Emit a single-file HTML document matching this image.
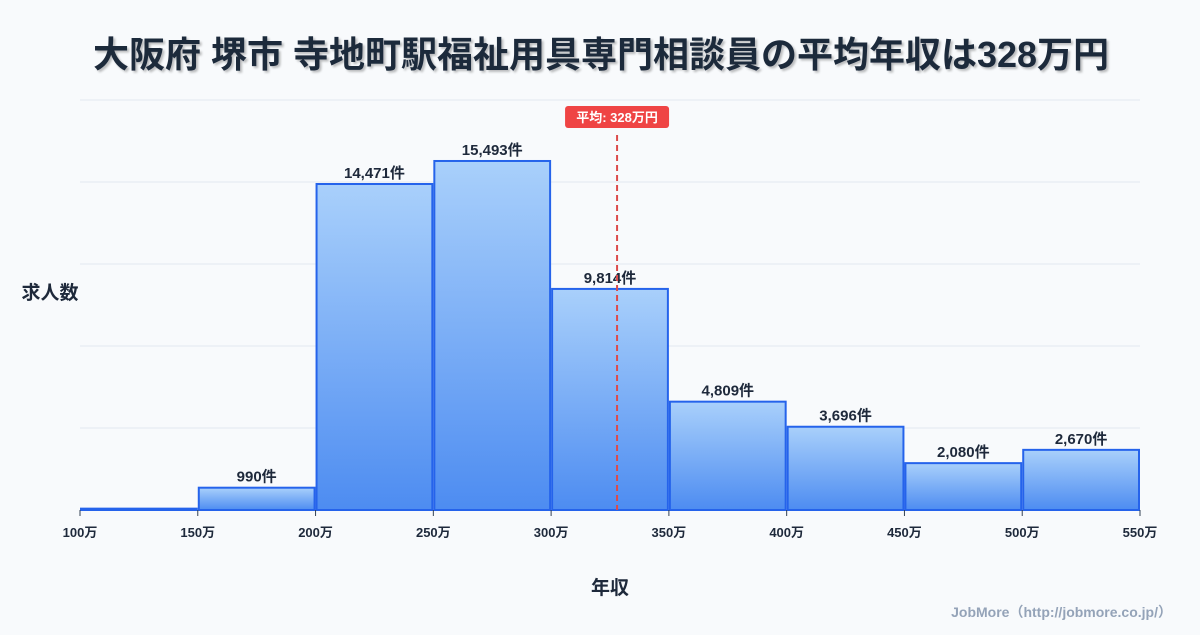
<!DOCTYPE html>
<html><head><meta charset="utf-8"><style>
body{margin:0;background:#f8fafc;font-family:"Liberation Sans","Noto Sans CJK JP",sans-serif;}
svg text{font-family:"Liberation Sans","Noto Sans CJK JP",sans-serif;}
</style></head><body>
<svg id="chart" width="1200" height="630" xmlns="http://www.w3.org/2000/svg">
<defs>
<linearGradient id="g" x1="0" y1="0" x2="0" y2="1"><stop offset="0" stop-color="#a9d0fb"/><stop offset="1" stop-color="#4d8cf1"/></linearGradient>
<filter id="sh"><feDropShadow dx="2" dy="2" stdDeviation="1" flood-color="#000" flood-opacity="0.25"/></filter>
</defs>
<text x="601" y="67" text-anchor="middle" font-size="36" font-weight="bold" fill="#1e293b" filter="url(#sh)">大阪府 堺市 寺地町駅福祉用具専門相談員の平均年収は328万円</text>
<g id="grid"></g><g id="bars"></g><g id="xaxis"></g>
<text x="50" y="299" text-anchor="middle" font-size="19" font-weight="bold" fill="#1e293b">求人数</text>
<text x="610" y="594" text-anchor="middle" font-size="19" font-weight="bold" fill="#1e293b">年収</text>
<text x="1172" y="617" text-anchor="end" font-size="14" font-weight="bold" fill="#94a3b8">JobMore（http://jobmore.co.jp/）</text>
</svg>
<script>
const binStarts=[100,150,200,250,300,350,400,450,500];
const counts=[60,990,14471,15493,9814,4809,3696,2080,2670];
const labels=["","990件","14,471件","15,493件","9,814件","4,809件","3,696件","2,080件","2,670件"];
const xTicks=[100,150,200,250,300,350,400,450,500,550];
const meanValue=328;
const meanLabel="平均: 328万円";
const NS="http://www.w3.org/2000/svg";
const x=v=>80+(v-100)*(1060/450);
const y=v=>510-v*(410/18200);
function el(t,a,p){const e=document.createElementNS(NS,t);for(const k in a)e.setAttribute(k,a[k]);p.appendChild(e);return e;}
const svg=document.getElementById('chart');
const grid=document.getElementById('grid'),bars=document.getElementById('bars'),xa=document.getElementById('xaxis');
for(let i=0;i<=5;i++){const gy=100+i*82;const l=el('line',{x1:80,x2:1140,y1:gy,y2:gy,stroke:'#e2e8f0','stroke-width':1},grid);

}
binStarts.forEach((b,i)=>{const x0=x(b)+1,x1=x(b+50)-1,yt=y(counts[i]);
const r=el('rect',{x:x0,y:yt,width:x1-x0,height:510-yt,fill:'url(#g)',stroke:'#2563eb','stroke-width':2},bars);


if(labels[i]){const t=el('text',{x:(x0+x1)/2,y:yt-6,'text-anchor':'middle','font-size':15,'font-weight':'bold',fill:'#1e293b'},bars);t.textContent=labels[i];

}});
xTicks.forEach(v=>{const tk=el('line',{x1:x(v),x2:x(v),y1:510,y2:516,stroke:'#334155','stroke-width':1},xa);


const t=el('text',{x:x(v),y:537,'text-anchor':'middle','font-size':13,'font-weight':'bold',fill:'#1e293b'},xa);t.textContent=v+'万';

});
const mx=x(meanValue);
const ml=el('line',{x1:mx,x2:mx,y1:135,y2:510,stroke:'#dc4a4a','stroke-width':2,'stroke-dasharray':'6,4'},svg);


const mb=el('rect',{x:mx-52,y:106,width:104,height:22,rx:3,fill:'#ef4444'},svg);


const mt=el('text',{x:mx,y:122,'text-anchor':'middle','font-size':13,'font-weight':'bold',fill:'#fff'},svg);mt.textContent=meanLabel;


</script>
</body></html>
